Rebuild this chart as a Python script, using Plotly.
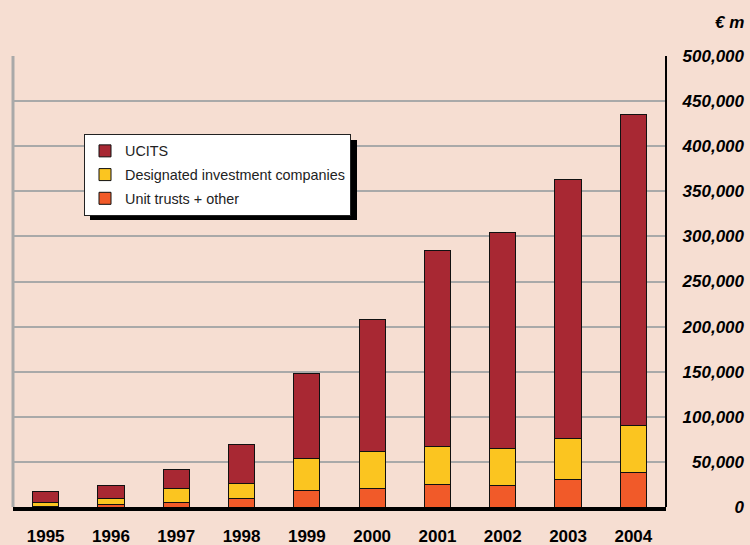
import plotly.graph_objects as go

years = ["1995", "1996", "1997", "1998", "1999", "2000", "2001", "2002", "2003", "2004"]
unit_trusts = [1000, 2500, 5000, 9000, 18500, 20500, 24500, 24000, 30500, 38000]
designated = [3500, 7000, 15500, 17000, 35000, 40500, 43000, 40500, 45000, 52000]
ucits = [12700, 14700, 20700, 43600, 95000, 146500, 216500, 239500, 287200, 344800]
y_ticks = [0, 50000, 100000, 150000, 200000, 250000, 300000, 350000, 400000, 450000, 500000]
y_tick_labels = ["0", "50,000", "100,000", "150,000", "200,000", "250,000",
                 "300,000", "350,000", "400,000", "450,000", "500,000"]

BG = "#F6DED2"
W, H = 750, 545
ML, MR, MT, MB = 13, 4, 56, 38
plot_w = W - ML - MR
plot_h = H - MT - MB
x_dom_right = (666 - ML) / plot_w

fig = go.Figure()
series = [
    ("Unit trusts + other", unit_trusts, "#F15A29", 3),
    ("Designated investment companies", designated, "#FBC520", 2),
    ("UCITS", ucits, "#A82833", 1),
]
for name, vals, col, rank in series:
    fig.add_trace(go.Bar(
        x=years, y=vals, name=name, legendgroup=name, legendrank=rank,
        marker=dict(color=col, line=dict(color="#111111", width=1)),
    ))

def px_x(px):
    return (px - ML) / plot_w

def px_y(py):
    return (H - MB - py) / plot_h

# legend box geometry (pixels)
lg_l, lg_t, lg_r, lg_b = 84, 134, 351, 215

fig.update_layout(
    width=W, height=H,
    paper_bgcolor=BG, plot_bgcolor=BG,
    margin=dict(l=ML, r=MR, t=MT, b=MB, autoexpand=False),
    barmode="stack", bargap=0.6,
    showlegend=True,
    legend=dict(
        x=px_x(lg_l), y=px_y(lg_t), xanchor="left", yanchor="top",
        bgcolor="white", bordercolor="#222222", borderwidth=1,
        traceorder="grouped", tracegroupgap=2,
        font=dict(family="Liberation Sans, Arial", size=14.4, color="#222222"),
    ),
    xaxis=dict(
        domain=[0, x_dom_right], type="category", automargin=False,
        showline=True, linecolor="black", linewidth=4,
        showgrid=False, ticks="", ticklabelstandoff=11,
        tickfont=dict(family="Liberation Sans, Arial", size=17, color="black", weight="bold"),
    ),
    yaxis=dict(
        range=[0, 500000], anchor="free", position=1, side="left", automargin=False,
        tickvals=y_ticks, ticktext=y_tick_labels,
        showgrid=True, gridcolor="#A9A9A9", gridwidth=2,
        zeroline=False, showline=False, ticks="", ticklabelstandoff=2,
        tickfont=dict(family="Liberation Sans, Arial", size=17, color="black",
                      weight="bold", style="italic"),
    ),
    shapes=[
        dict(type="line", xref="x domain", yref="y domain", x0=0, x1=0, y0=0, y1=1,
             line=dict(color="#A9A9A9", width=3), layer="below"),
        dict(type="line", xref="x domain", yref="y domain", x0=1, x1=1, y0=0, y1=1,
             line=dict(color="black", width=2)),
        dict(type="rect", xref="paper", yref="paper",
             x0=px_x(lg_l + 6), x1=px_x(lg_r + 6), y0=px_y(lg_b + 5), y1=px_y(lg_t + 6),
             fillcolor="black", line=dict(width=0)),
    ],
    annotations=[
        dict(text="€ m", xref="paper", yref="paper", x=1, y=px_y(23),
             xanchor="right", yanchor="middle", showarrow=False,
             font=dict(family="Liberation Sans, Arial", size=17, color="black",
                       weight="bold", style="italic")),
    ],
)

fig.write_html("out.html", config={"displayModeBar": False},
               post_script="document.body.style.margin='0';document.body.style.background='%s';" % BG)
